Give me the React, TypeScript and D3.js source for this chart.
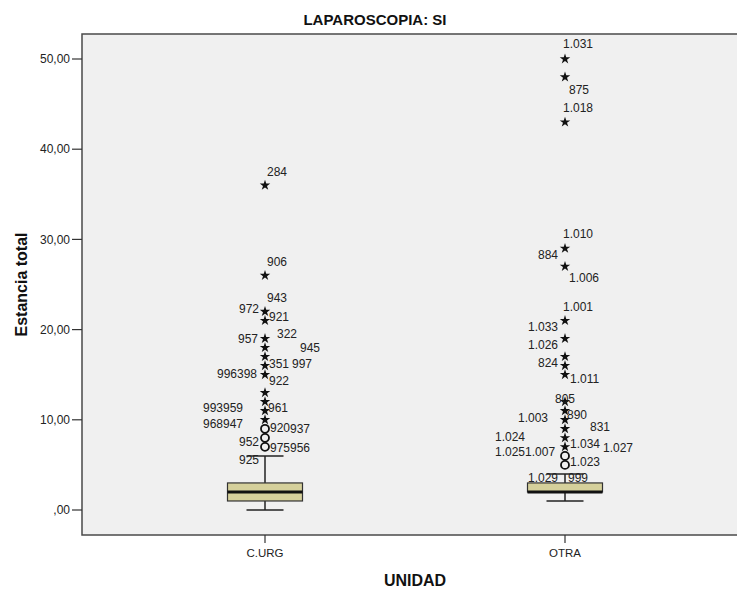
import React from "react";
import * as d3 from "d3";

// ---- data ----
const categories = ["C.URG", "OTRA"];
const q1 = [1, 2];
const median = [2, 2];
const q3 = [3, 3];
const whiskerLow = [0, 1];
const whiskerHigh = [6, 4];

const curgMild = [7, 8, 9];
const curgExtreme = [10, 11, 12, 13, 15, 16, 17, 18, 19, 21, 22, 26, 36];
const otraMild = [5, 6];
const otraExtreme = [7, 8, 9, 10, 11, 12, 15, 16, 17, 19, 21, 27, 29, 43, 48, 50];

const yTicks = [0, 10, 20, 30, 40, 50];
const yTickLabels = [",00", "10,00", "20,00", "30,00", "40,00", "50,00"];

// case labels: [text, attached value, dx, dy]
const curgLabels: [string, number, number, number][] = [
  ["284", 36, 2, -9],
  ["906", 26, 2, -9],
  ["943", 22, 2, -10],
  ["972", 22, -26, 1],
  ["921", 21, 4, 0],
  ["957", 19, -27, 4],
  ["322", 19, 12, -1],
  ["945", 18, 35, 4],
  ["351", 16, 4, 2],
  ["997", 16, 27, 2],
  ["996398", 15, -48, 3],
  ["922", 15, 4, 10],
  ["993959", 11, -62, 1],
  ["961", 11, 3, 1],
  ["968947", 10, -62, 8],
  ["920", 9, 5, 3],
  ["937", 9, 25, 4],
  ["952", 8, -26, 8],
  ["975956", 7, 5, 5],
  ["925", 7, -26, 17],
];
const otraLabels: [string, number, number, number][] = [
  ["1.031", 50, -2, -11],
  ["875", 48, 4, 17],
  ["1.018", 43, -2, -10],
  ["1.010", 29, -2, -10],
  ["884", 29, -27, 11],
  ["1.006", 27, 4, 16],
  ["1.001", 21, -2, -10],
  ["1.033", 21, -37, 10],
  ["1.026", 19, -37, 10],
  ["824", 16, -27, 1],
  ["1.011", 15, 5, 8],
  ["805", 12, -10, 1],
  ["890", 11, 2, 8],
  ["1.003", 11, -47, 11],
  ["831", 10, 25, 11],
  ["1.024", 9, -70, 12],
  ["1.034", 8, 5, 10],
  ["1.027", 8, 38, 14],
  ["1.0251.007", 7, -70, 9],
  ["1.023", 6, 5, 10],
  ["1.029", 5, -37, 17],
  ["999", 5, 3, 17],
];

const mildAll = [curgMild, otraMild];
const extremeAll = [curgExtreme, otraExtreme];
const labelsAll = [curgLabels, otraLabels];

const FONT = "'Liberation Sans', Arial, sans-serif";

export default function App() {
  const W = 737;
  const H = 590;
  const plot = { left: 82, top: 34, right: 748, bottom: 535 };
  const y = d3.scaleLinear().domain([0, 50]).range([510, 59]);
  const x = d3.scalePoint<string>().domain(categories).range([265, 565]);
  const boxW = 75;
  const capW = 37;
  const star = d3.symbol().type(d3.symbolStar).size(34)() as string;

  return (
    <svg
      width={W}
      height={H}
      style={{ position: "absolute", left: 0, top: 0, background: "#fff" }}
      fontFamily={FONT}
    >
      <rect x={0} y={0} width={W} height={H} fill="#fff" />
      <rect
        x={plot.left}
        y={plot.top}
        width={plot.right - plot.left}
        height={plot.bottom - plot.top}
        fill="#f0f0f0"
        stroke="#4a4a4a"
        strokeWidth={1.5}
      />
      {/* title */}
      <text x={375} y={25} textAnchor="middle" fontWeight="bold" fontSize={15} fill="#111">
        LAPAROSCOPIA: SI
      </text>
      {/* y axis */}
      {yTicks.map((t, i) => (
        <g key={t}>
          <line x1={72} x2={plot.left} y1={y(t)} y2={y(t)} stroke="#333" strokeWidth={1.2} />
          <text x={70} y={y(t)} dy="0.35em" textAnchor="end" fontSize={12} fill="#222">
            {yTickLabels[i]}
          </text>
        </g>
      ))}
      <text
        transform={`translate(27,${(plot.top + plot.bottom) / 2}) rotate(-90)`}
        textAnchor="middle"
        fontWeight="bold"
        fontSize={16}
        fill="#111"
      >
        Estancia total
      </text>
      {/* x axis */}
      {categories.map((c) => (
        <g key={c}>
          <line x1={x(c)} x2={x(c)} y1={plot.bottom} y2={plot.bottom + 8} stroke="#333" strokeWidth={1.2} />
          <text x={x(c)} y={557} textAnchor="middle" fontSize={11.5} fill="#222">
            {c}
          </text>
        </g>
      ))}
      <text x={415} y={586} textAnchor="middle" fontWeight="bold" fontSize={16} fill="#111">
        UNIDAD
      </text>
      {/* boxes */}
      {categories.map((c, i) => {
        const cx = x(c) as number;
        return (
          <g key={c}>
            <line x1={cx} x2={cx} y1={y(whiskerHigh[i])} y2={y(q3[i])} stroke="#222" strokeWidth={1.5} />
            <line x1={cx} x2={cx} y1={y(q1[i])} y2={y(whiskerLow[i])} stroke="#222" strokeWidth={1.5} />
            <line x1={cx - capW / 2} x2={cx + capW / 2} y1={y(whiskerHigh[i])} y2={y(whiskerHigh[i])} stroke="#222" strokeWidth={1.5} />
            <line x1={cx - capW / 2} x2={cx + capW / 2} y1={y(whiskerLow[i])} y2={y(whiskerLow[i])} stroke="#222" strokeWidth={1.5} />
            <rect
              x={cx - boxW / 2}
              y={y(q3[i])}
              width={boxW}
              height={y(q1[i]) - y(q3[i])}
              fill="#d5d09b"
              stroke="#333"
              strokeWidth={1.2}
            />
            <line x1={cx - boxW / 2} x2={cx + boxW / 2} y1={y(median[i])} y2={y(median[i])} stroke="#111" strokeWidth={3} />
            {mildAll[i].map((v) => (
              <circle key={"m" + v} cx={cx} cy={y(v)} r={4} fill="none" stroke="#111" strokeWidth={1.8} />
            ))}
            {extremeAll[i].map((v) => (
              <path key={"e" + v} d={star} transform={`translate(${cx},${y(v)})`} fill="#111" />
            ))}
            {labelsAll[i].map(([t, v, dx, dy], k) => (
              <text key={"l" + k} x={cx + dx} y={y(v) + dy} fontSize={12} fill="#222">
                {t}
              </text>
            ))}
          </g>
        );
      })}
    </svg>
  );
}
